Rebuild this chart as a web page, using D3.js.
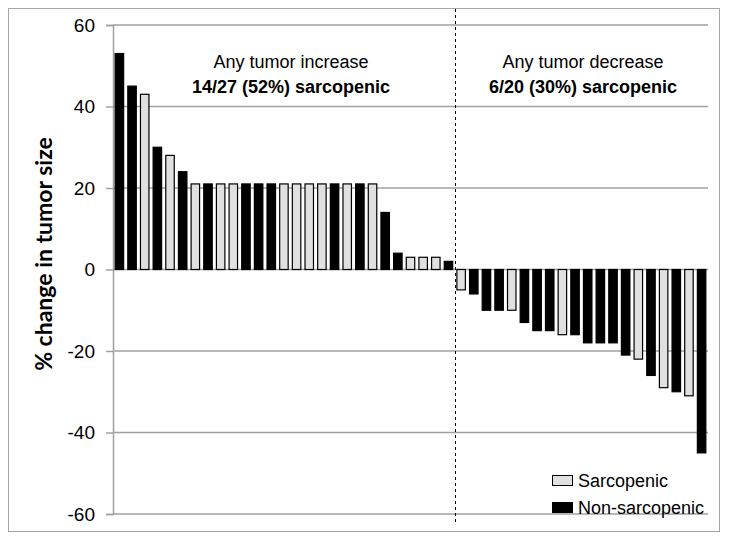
<!DOCTYPE html>
<html>
<head>
<meta charset="utf-8">
<script src="https://cdn.jsdelivr.net/npm/d3@7"></script>
<style>
  body { margin: 0; background: #fff; }
  text { font-family: Arial, "Liberation Sans", sans-serif; }
</style>
</head>
<body>
<svg width="729" height="542"></svg>
<script>
// tumor size change per patient, sorted (waterfall)
var changes = [53, 45, 43, 30, 28, 24,
  21, 21, 21, 21, 21, 21, 21, 21, 21, 21, 21, 21, 21, 21, 21,
  14, 4, 3, 3, 3, 2,
  -5, -6, -10, -10, -10, -13, -15, -15, -16, -16, -18, -18, -18, -21, -22, -26, -29, -30, -31, -45];
// S = sarcopenic, N = non-sarcopenic
var groups = ["N", "N", "S", "N", "S", "N",
  "S", "N", "S", "S", "N", "N", "N", "S", "S", "S", "S", "N", "S", "N", "S",
  "N", "N", "S", "S", "S", "N",
  "S", "N", "N", "N", "S", "N", "N", "N", "S", "N", "N", "N", "N", "N", "S", "N", "S", "N", "S", "N"];
var yTicks = [60, 40, 20, 0, -20, -40, -60];
var legendItems = [{key: "S", label: "Sarcopenic"}, {key: "N", label: "Non-sarcopenic"}];
var fills = {S: "#e0e0e0", N: "#000"};

var svg = d3.select("svg");

// outer frame
svg.append("rect")
  .attr("x", 8.5).attr("y", 8.5).attr("width", 711).attr("height", 523)
  .attr("fill", "none").attr("stroke", "#a6a6a6");

var x = d3.scaleBand().domain(d3.range(changes.length)).range([113, 708]).paddingInner(0.33).paddingOuter(0.17);
var y = d3.scaleLinear().domain([-60, 60]).range([514, 25]);

// grid lines
svg.append("g").selectAll("line")
  .data(yTicks)
  .enter().append("line")
    .attr("x1", 113).attr("x2", 708)
    .attr("y1", function(d) { return y(d); })
    .attr("y2", function(d) { return y(d); })
    .attr("stroke", "#a0a0a0").attr("stroke-width", 1.5);

// y axis
var yAxis = svg.append("g").attr("transform", "translate(113,0)")
  .call(d3.axisLeft(y).tickValues(yTicks).tickSize(7).tickPadding(11)
    .tickFormat(function(d) { return String(d); }));
yAxis.select(".domain").attr("stroke", "#a0a0a0").attr("stroke-width", 1.5);
yAxis.selectAll(".tick line").attr("stroke", "#a0a0a0").attr("stroke-width", 1.5);
yAxis.selectAll(".tick text").attr("font-size", 19).attr("font-family", "Arial, 'Liberation Sans', sans-serif").attr("fill", "#000");

// bars
svg.append("g").selectAll("rect")
  .data(changes)
  .enter().append("rect")
    .attr("x", function(d, i) { return x(i); })
    .attr("width", x.bandwidth())
    .attr("y", function(d) { return y(Math.max(0, d)); })
    .attr("height", function(d) { return Math.abs(y(d) - y(0)); })
    .attr("fill", function(d, i) { return fills[groups[i]]; })
    .attr("stroke", "#000").attr("stroke-width", 1.2);

// divider between increase / decrease
var firstNeg = changes.findIndex(function(d) { return d < 0; });
var divX = Math.round(x(firstNeg) - x.step() * x.paddingInner() / 2) + 0.5;
svg.append("line")
  .attr("x1", divX).attr("x2", divX).attr("y1", 9).attr("y2", 525)
  .attr("stroke", "#000").attr("stroke-width", 1).attr("stroke-dasharray", "3,3");

// group labels
var nInc = firstNeg, nDec = changes.length - firstNeg;
var sInc = groups.slice(0, firstNeg).filter(function(g) { return g == "S"; }).length;
var sDec = groups.slice(firstNeg).filter(function(g) { return g == "S"; }).length;
var labels = [
  {cx: 291, t1: "Any tumor increase", t2: sInc + "/" + nInc + " (" + Math.round(100 * sInc / nInc) + "%) sarcopenic"},
  {cx: 583, t1: "Any tumor decrease", t2: sDec + "/" + nDec + " (" + Math.round(100 * sDec / nDec) + "%) sarcopenic"}
];
labels.forEach(function(l) {
  svg.append("text").attr("x", l.cx).attr("y", 68).attr("text-anchor", "middle")
    .attr("font-size", 18).text(l.t1);
  svg.append("text").attr("x", l.cx).attr("y", 93).attr("text-anchor", "middle")
    .attr("font-size", 18).attr("font-weight", "bold").text(l.t2);
});

// y axis title
svg.append("text")
  .attr("transform", "translate(52,254) rotate(-90)")
  .attr("text-anchor", "middle")
  .style("font-family", "Lato, 'Open Sans', sans-serif")
  .attr("font-size", 23).attr("font-weight", "bold")
  .text("% change in tumor size");

// legend
var leg = svg.append("g").selectAll("g")
  .data(legendItems)
  .enter().append("g")
    .attr("transform", function(d, i) { return "translate(552," + (475 + i * 27) + ")"; });
leg.append("rect")
  .attr("x", 0.5).attr("y", 0.5).attr("width", 20).attr("height", 10)
  .attr("fill", function(d) { return fills[d.key]; })
  .attr("stroke", "#000").attr("stroke-width", 1);
leg.append("text")
  .attr("x", 26).attr("y", 12)
  .attr("font-size", 18)
  .text(function(d) { return d.label; });
</script>
</body>
</html>
